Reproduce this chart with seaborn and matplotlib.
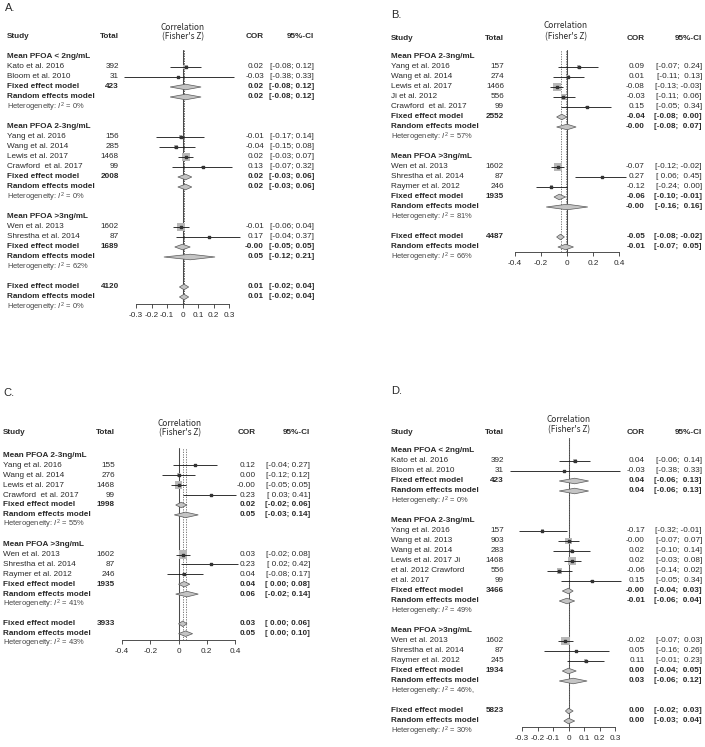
import matplotlib
matplotlib.use("Agg")
import matplotlib.pyplot as plt
import matplotlib.transforms as mtransforms
import numpy as np
import pandas as pd
import seaborn as sns

# ---------------- panel A ----------------
a_groups = ["Mean PFOA < 2ng/mL", "Mean PFOA 2-3ng/mL", "Mean PFOA >3ng/mL"]
a_study = ["Kato et al. 2016", "Bloom et al. 2010", "Yang et al. 2016", "Wang et al. 2014",
           "Lewis et al. 2017", "Crawford  et al. 2017", "Wen et al. 2013", "Shrestha et al. 2014"]
a_group = [0, 0, 1, 1, 1, 1, 2, 2]
a_total = [392, 31, 156, 285, 1468, 99, 1602, 87]
a_cor = [0.02, -0.03, -0.01, -0.04, 0.02, 0.13, -0.01, 0.17]
a_lo = [-0.08, -0.38, -0.17, -0.15, -0.03, -0.07, -0.06, -0.04]
a_hi = [0.12, 0.33, 0.14, 0.08, 0.07, 0.32, 0.04, 0.37]
a_fix_total = [423, 2008, 1689]
a_fix = [0.02, 0.02, -0.0]
a_fix_lo = [-0.08, -0.03, -0.05]
a_fix_hi = [0.12, 0.06, 0.05]
a_ran = [0.02, 0.02, 0.05]
a_ran_lo = [-0.08, -0.03, -0.12]
a_ran_hi = [0.12, 0.06, 0.21]
a_het = ["0%", "0%", "62%"]
a_all = [4120, 0.01, -0.02, 0.04, 0.01, -0.02, 0.04, "0%"]
a_ticks = [-0.3, -0.2, -0.1, 0, 0.1, 0.2, 0.3]
a_ticklabels = ["-0.3", "-0.2", "-0.1", "0", "0.1", "0.2", "0.3"]

# ---------------- panel B ----------------
b_groups = ["Mean PFOA 2-3ng/mL", "Mean PFOA >3ng/mL"]
b_study = ["Yang et al. 2016", "Wang et al. 2014", "Lewis et al. 2017", "Ji et al. 2012",
           "Crawford  et al. 2017", "Wen et al. 2013", "Shrestha et al. 2014", "Raymer et al. 2012"]
b_group = [0, 0, 0, 0, 0, 1, 1, 1]
b_total = [157, 274, 1466, 556, 99, 1602, 87, 246]
b_cor = [0.09, 0.01, -0.08, -0.03, 0.15, -0.07, 0.27, -0.12]
b_lo = [-0.07, -0.11, -0.13, -0.11, -0.05, -0.12, 0.06, -0.24]
b_hi = [0.24, 0.13, -0.03, 0.06, 0.34, -0.02, 0.45, 0.00]
b_fix_total = [2552, 1935]
b_fix = [-0.04, -0.06]
b_fix_lo = [-0.08, -0.10]
b_fix_hi = [0.00, -0.01]
b_ran = [-0.0, -0.0]
b_ran_lo = [-0.08, -0.16]
b_ran_hi = [0.07, 0.16]
b_het = ["57%", "81%"]
b_all = [4487, -0.05, -0.08, -0.02, -0.01, -0.07, 0.05, "66%"]
b_ticks = [-0.4, -0.2, 0, 0.2, 0.4]
b_ticklabels = ["-0.4", "-0.2", "0", "0.2", "0.4"]

# ---------------- panel C ----------------
c_groups = ["Mean PFOA 2-3ng/mL", "Mean PFOA >3ng/mL"]
c_study = ["Yang et al. 2016", "Wang et al. 2014", "Lewis et al. 2017", "Crawford  et al. 2017",
           "Wen et al. 2013", "Shrestha et al. 2014", "Raymer et al. 2012"]
c_group = [0, 0, 0, 0, 1, 1, 1]
c_total = [155, 276, 1468, 99, 1602, 87, 246]
c_cor = [0.12, 0.00, -0.0, 0.23, 0.03, 0.23, 0.04]
c_lo = [-0.04, -0.12, -0.05, 0.03, -0.02, 0.02, -0.08]
c_hi = [0.27, 0.12, 0.05, 0.41, 0.08, 0.42, 0.17]
c_fix_total = [1998, 1935]
c_fix = [0.02, 0.04]
c_fix_lo = [-0.02, 0.00]
c_fix_hi = [0.06, 0.08]
c_ran = [0.05, 0.06]
c_ran_lo = [-0.03, -0.02]
c_ran_hi = [0.14, 0.14]
c_het = ["55%", "41%"]
c_all = [3933, 0.03, 0.00, 0.06, 0.05, 0.00, 0.10, "43%"]
c_ticks = [-0.4, -0.2, 0, 0.2, 0.4]
c_ticklabels = ["-0.4", "-0.2", "0", "0.2", "0.4"]

# ---------------- panel D ----------------
d_groups = ["Mean PFOA < 2ng/mL", "Mean PFOA 2-3ng/mL", "Mean PFOA >3ng/mL"]
d_study = ["Kato et al. 2016", "Bloom et al. 2010", "Yang et al. 2016", "Wang et al. 2013",
           "Wang et al. 2014", "Lewis et al. 2017 Ji", "et al. 2012 Crawford", "et al. 2017",
           "Wen et al. 2013", "Shrestha et al. 2014", "Raymer et al. 2012"]
d_group = [0, 0, 1, 1, 1, 1, 1, 1, 2, 2, 2]
d_total = [392, 31, 157, 903, 283, 1468, 556, 99, 1602, 87, 245]
d_cor = [0.04, -0.03, -0.17, -0.0, 0.02, 0.02, -0.06, 0.15, -0.02, 0.05, 0.11]
d_lo = [-0.06, -0.38, -0.32, -0.07, -0.10, -0.03, -0.14, -0.05, -0.07, -0.16, -0.01]
d_hi = [0.14, 0.33, -0.01, 0.07, 0.14, 0.08, 0.02, 0.34, 0.03, 0.26, 0.23]
d_fix_total = [423, 3466, 1934]
d_fix = [0.04, -0.0, 0.00]
d_fix_lo = [-0.06, -0.04, -0.04]
d_fix_hi = [0.13, 0.03, 0.05]
d_ran = [0.04, -0.01, 0.03]
d_ran_lo = [-0.06, -0.06, -0.06]
d_ran_hi = [0.13, 0.04, 0.12]
d_het = ["0%", "49%", "46%,"]
d_all = [5823, 0.00, -0.02, 0.03, 0.00, -0.03, 0.04, "30%"]
d_ticks = [-0.3, -0.2, -0.1, 0, 0.1, 0.2, 0.3]
d_ticklabels = ["-0.3", "-0.2", "-0.1", "0", "0.1", "0.2", "0.3"]

W, H = 705, 747
FS = 5.9
TXT = "#2a2a2a"

sns.set_style("white")
plt.rcParams["font.family"] = ["Liberation Sans", "DejaVu Sans"]
plt.rcParams["mathtext.fontset"] = "custom"
plt.rcParams["mathtext.rm"] = "Liberation Sans"
plt.rcParams["mathtext.it"] = "Liberation Sans:italic"


def panel_data(p):
    g = globals()
    keys = ["groups", "study", "group", "total", "cor", "lo", "hi", "fix_total", "fix", "fix_lo",
            "fix_hi", "ran", "ran_lo", "ran_hi", "het", "all", "ticks", "ticklabels"]
    return {k: g[f"{p}_{k}"] for k in keys}


def fmt_ci(lo, hi, pad_hi):
    hs = f"{hi:5.2f}" if pad_hi else f"{hi:.2f}"
    return f"[{lo:5.2f}; {hs}]"


def draw_panel(fig, lay, d):
    y0, dy = lay["y_first"], lay["dy"]
    (v0, p0), (v1, p1) = lay["xmap"]
    ax = fig.add_axes([p0 / W, 1 - lay["y_axis"] / H, (p1 - p0) / W,
                       (lay["y_axis"] - lay["y_top"]) / H])
    ax.patch.set_alpha(0)
    tr = mtransforms.blended_transform_factory(fig.transFigure, ax.transData)

    def txt(px, row, s, ha="left", bold=False, size=FS, color=TXT):
        ax.text(px / W, row, s, transform=tr, ha=ha, va="center", fontsize=size,
                fontweight="bold" if bold else "normal", color=color, clip_on=False)

    def values(row, est, lo, hi, bold=False):
        txt(lay["x_cor"], row, f"{est:.2f}", ha="right", bold=bold)
        txt(lay["x_ci"], row, fmt_ci(lo, hi, lay["pad_hi"]), ha="right", bold=bold)

    def diamond(row, est, lo, hi):
        h = 0.28
        ax.fill([lo, est, hi, est], [row, row - h, row, row + h], facecolor="#c4c4c4",
                edgecolor="#5a5a5a", lw=0.5, clip_on=False, zorder=3)

    het = lambda s: f"Heterogeneity: $I^2$ = {s}"
    grp = np.array(d["group"])
    rows = []
    r = 0
    for g, title in enumerate(d["groups"]):
        txt(lay["x_study"], r, title, bold=True)
        r += 1
        for i in np.flatnonzero(grp == g):
            rows.append(r)
            txt(lay["x_study"], r, d["study"][i])
            txt(lay["x_total"], r, str(d["total"][i]), ha="right")
            values(r, d["cor"][i], d["lo"][i], d["hi"][i])
            r += 1
        txt(lay["x_study"], r, "Fixed effect model", bold=True)
        txt(lay["x_total"], r, str(d["fix_total"][g]), ha="right", bold=True)
        values(r, d["fix"][g], d["fix_lo"][g], d["fix_hi"][g], bold=True)
        diamond(r, d["fix"][g], d["fix_lo"][g], d["fix_hi"][g])
        r += 1
        txt(lay["x_study"], r, "Random effects model", bold=True)
        values(r, d["ran"][g], d["ran_lo"][g], d["ran_hi"][g], bold=True)
        diamond(r, d["ran"][g], d["ran_lo"][g], d["ran_hi"][g])
        r += 1
        txt(lay["x_study"], r, het(d["het"][g]), size=5.4, color="#444444")
        r += 2

    n_all, f_est, f_lo, f_hi, r_est, r_lo, r_hi, h_all = d["all"]
    txt(lay["x_study"], r, "Fixed effect model", bold=True)
    txt(lay["x_total"], r, str(n_all), ha="right", bold=True)
    values(r, f_est, f_lo, f_hi, bold=True)
    diamond(r, f_est, f_lo, f_hi)
    txt(lay["x_study"], r + 1, "Random effects model", bold=True)
    values(r + 1, r_est, r_lo, r_hi, bold=True)
    diamond(r + 1, r_est, r_lo, r_hi)
    txt(lay["x_study"], r + 2, het(h_all), size=5.4, color="#444444")

    studies = pd.DataFrame({"row": rows, "cor": d["cor"], "lo": d["lo"], "hi": d["hi"],
                            "total": d["total"]})
    sns.scatterplot(data=studies, x="cor", y="row", size="total", sizes=(1.5, 37),
                    size_norm=(0, 1700), marker="s", color="#b8b8b8", edgecolor="none",
                    legend=False, ax=ax, clip_on=False, zorder=2)
    ax.hlines(studies["row"], studies["lo"], studies["hi"], color="#111111", lw=0.6,
              clip_on=False, zorder=4)
    ax.scatter(studies["cor"], studies["row"], s=0.8, marker="s", color="#333333",
               clip_on=False, zorder=5)

    ax.axvline(0, color="#4a4a4a", lw=0.75, zorder=1)
    for v in (f_est, r_est):
        ax.axvline(v, color="#666666", lw=0.6, ls=(0, (1.5, 1.5)), zorder=1)

    ax.set_xlim(v0, v1)
    ax.set_ylim((lay["y_axis"] - y0) / dy, (lay["y_top"] - y0) / dy)
    ax.set(xlabel="", ylabel="")
    ax.set_yticks([])
    ax.set_xticks(d["ticks"])
    ax.set_xticklabels(d["ticklabels"], fontsize=FS, color=TXT)
    ax.tick_params(axis="x", direction="out", length=3.2, width=0.6, pad=2.5, color="#333333",
                   bottom=True)
    for s in ("top", "left", "right"):
        ax.spines[s].set_visible(False)
    ax.spines["bottom"].set_color("#333333")
    ax.spines["bottom"].set_linewidth(0.6)

    # headers
    fig.text(lay["label"][0] / W, 1 - lay["label"][1] / H, lay["name"], fontsize=8,
             color=TXT, va="center")
    hy = 1 - lay["y_head"] / H
    fig.text(lay["x_study"] / W, hy, "Study", fontsize=FS, fontweight="bold", color=TXT, va="center")
    fig.text(lay["x_total"] / W, hy, "Total", fontsize=FS, fontweight="bold", color=TXT,
             va="center", ha="right")
    fig.text(lay["x_cor"] / W, hy, "COR", fontsize=FS, fontweight="bold", color=TXT,
             va="center", ha="right")
    fig.text(lay["x_ci"] / W, hy, "95%-CI", fontsize=FS, fontweight="bold", color=TXT,
             va="center", ha="right")
    cx, c1, c2 = lay["corr"]
    for yy, s in ((c1, "Correlation"), (c2, "(Fisher's Z)")):
        fig.text(cx / W, 1 - yy / H, s, fontsize=6, color=TXT, ha="center", va="center",
                 family=["Noto Sans CJK KR", "DejaVu Sans"], fontweight="medium")


layouts = {
    "a": dict(name="A.", label=(5, 8), x_study=7, x_total=119, x_cor=264, x_ci=314, pad_hi=False,
              y_first=57, dy=10, y_top=50, y_axis=304, xmap=((-0.3, 136), (0.3, 229)),
              y_head=37, corr=(183, 27, 37)),
    "b": dict(name="B.", label=(391, 15), x_study=391, x_total=504, x_cor=645, x_ci=702, pad_hi=True,
              y_first=57, dy=10, y_top=50, y_axis=252, xmap=((-0.4, 515), (0.4, 619)),
              y_head=38, corr=(566, 26, 37)),
    "c": dict(name="C.", label=(3, 393), x_study=3, x_total=115, x_cor=256, x_ci=310, pad_hi=False,
              y_first=455.5, dy=9.9, y_top=448, y_axis=640, xmap=((-0.4, 122), (0.4, 235)),
              y_head=433, corr=(180, 423, 433)),
    "d": dict(name="D.", label=(391, 391), x_study=391, x_total=504, x_cor=645, x_ci=702, pad_hi=True,
              y_first=451, dy=10, y_top=438, y_axis=727, xmap=((-0.3, 522), (0.3, 615)),
              y_head=432, corr=(569, 419, 430)),
}

fig = plt.figure(figsize=(W / 100, H / 100), dpi=100)
for p in ("a", "b", "c", "d"):
    draw_panel(fig, layouts[p], panel_data(p))

fig.savefig("out.png", dpi=100, facecolor="white")
